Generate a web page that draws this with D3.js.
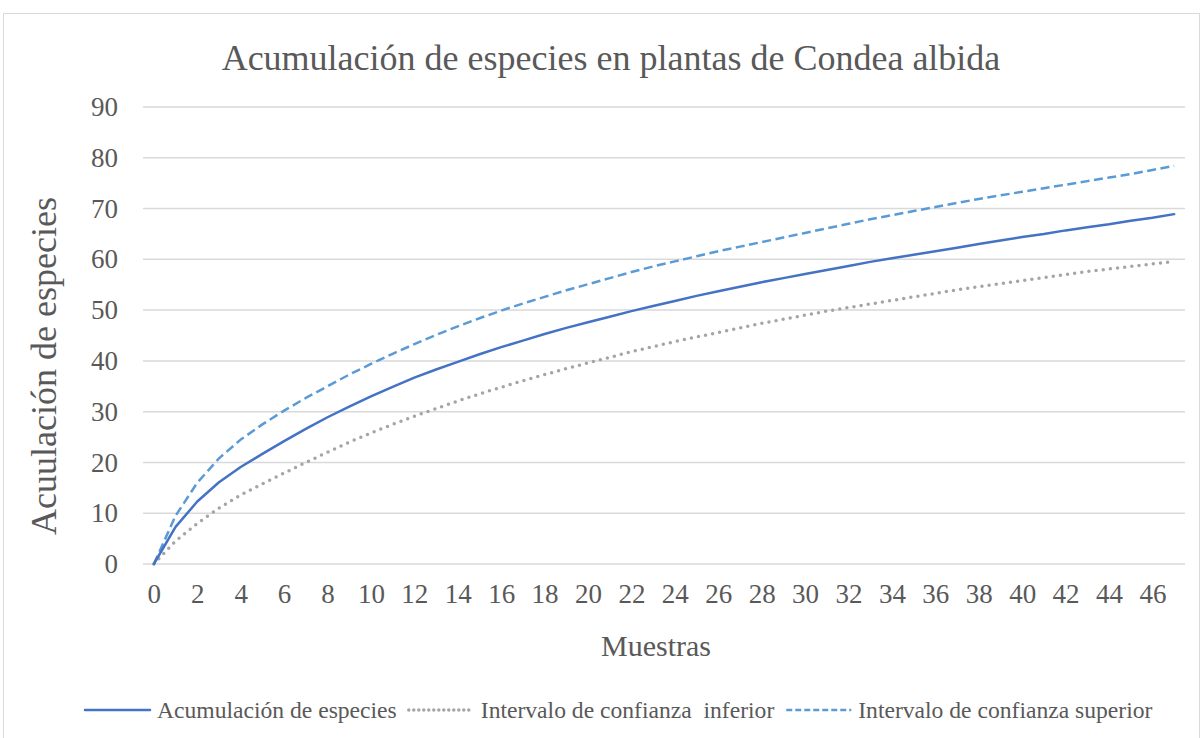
<!DOCTYPE html>
<html>
<head>
<meta charset="utf-8">
<script src="https://cdn.jsdelivr.net/npm/d3@7"></script>
<style>
  body { margin: 0; background: #fff; }
  text { font-family: "Liberation Serif", "Times New Roman", serif; fill: #595959; }
</style>
</head>
<body>
<svg id="chart" width="1203" height="738"></svg>
<script>
// muestras 0..47
var muestras = d3.range(0, 48);
var acumulacion = [0, 7.3, 12.3, 16.1, 19.1, 21.7, 24.2, 26.6, 28.9, 31.0, 33.0, 34.9, 36.7, 38.3, 39.8, 41.3,
  42.7, 44.0, 45.3, 46.5, 47.6, 48.7, 49.8, 50.8, 51.8, 52.8, 53.7, 54.6, 55.5, 56.3, 57.1, 57.9,
  58.7, 59.5, 60.2, 60.9, 61.6, 62.3, 63.0, 63.7, 64.4, 65.0, 65.7, 66.3, 66.9, 67.6, 68.2, 68.9];
var inferior = [0, 4.5, 8.0, 11.0, 13.6, 15.8, 17.9, 20.0, 22.0, 24.0, 25.8, 27.5, 29.1, 30.6, 32.1, 33.5,
  34.8, 36.1, 37.3, 38.5, 39.6, 40.7, 41.8, 42.8, 43.8, 44.7, 45.6, 46.5, 47.4, 48.2, 49.0, 49.8,
  50.5, 51.2, 51.9, 52.6, 53.3, 54.0, 54.6, 55.2, 55.8, 56.4, 57.0, 57.6, 58.1, 58.6, 59.1, 59.6];
var superior = [0, 9.5, 16.0, 20.8, 24.5, 27.5, 30.2, 32.7, 35.0, 37.3, 39.4, 41.4, 43.3, 45.1, 46.8, 48.4,
  49.9, 51.3, 52.6, 53.9, 55.1, 56.3, 57.5, 58.6, 59.6, 60.6, 61.6, 62.5, 63.4, 64.3, 65.2, 66.1,
  67.0, 67.9, 68.7, 69.5, 70.3, 71.1, 71.9, 72.6, 73.3, 74.0, 74.7, 75.4, 76.1, 76.8, 77.6, 78.4];
var yTicks = [0, 10, 20, 30, 40, 50, 60, 70, 80, 90];
var xTicks = d3.range(0, 48, 2);

var series = [
  {name: "Acumulación de especies", values: acumulacion, color: "#4472C4", dash: null, width: 2.5, cap: "round"},
  {name: "Intervalo de confianza  inferior", values: inferior, color: "#A5A5A5", dash: "0,7.2", width: 3.5, cap: "round"},
  {name: "Intervalo de confianza superior", values: superior, color: "#5B9BD5", dash: "9,4.5", width: 2.5, cap: "butt"}
];

var svg = d3.select("#chart");
var plotLeft = 143, plotRight = 1185, plotTop = 107, plotBottom = 564;

svg.append("rect")
  .attr("x", 3.5).attr("y", 13.5)
  .attr("width", 1196).attr("height", 740)
  .attr("fill", "#fff").attr("stroke", "#d9d9d9").attr("stroke-width", 1);

var x = d3.scalePoint().domain(muestras).range([plotLeft, plotRight]).padding(0.5);
var y = d3.scaleLinear().domain([0, 90]).range([plotBottom, plotTop]);

// gridlines
svg.append("g")
  .selectAll("line")
  .data(yTicks)
  .enter().append("line")
  .attr("x1", plotLeft).attr("x2", plotRight)
  .attr("y1", function(d) { return y(d); })
  .attr("y2", function(d) { return y(d); })
  .attr("stroke", "#d9d9d9").attr("stroke-width", 1.5);

// y axis labels
var yAxis = d3.axisLeft(y).tickValues(yTicks).tickSize(0).tickPadding(0);
var gy = svg.append("g").attr("transform", "translate(118,0)").call(yAxis);
gy.select(".domain").remove();
gy.selectAll("text").style("font-size", "27px").attr("fill", "#595959")
  .style("font-family", "Liberation Serif");

// x axis labels
var xAxis = d3.axisBottom(x).tickValues(xTicks).tickSize(0).tickPadding(0);
var gx = svg.append("g").attr("transform", "translate(0,584)").call(xAxis);
gx.select(".domain").remove();
gx.selectAll("text").style("font-size", "27px").attr("fill", "#595959")
  .style("font-family", "Liberation Serif");

// lines
var line = d3.line()
  .x(function(d, i) { return x(muestras[i]); })
  .y(function(d) { return y(d); });

series.slice().reverse().forEach(function(s) {
  svg.append("path")
    .datum(s.values)
    .attr("d", line)
    .attr("fill", "none")
    .attr("stroke", s.color)
    .attr("stroke-width", s.width)
    .attr("stroke-linecap", s.cap)
    .attr("stroke-linejoin", "round")
    .attr("stroke-dasharray", s.dash);
});

// titles
svg.append("text")
  .attr("x", 611).attr("y", 70)
  .attr("text-anchor", "middle")
  .style("font-size", "36px")
  .text("Acumulación de especies en plantas de Condea albida");

svg.append("text")
  .attr("x", 656).attr("y", 656)
  .attr("text-anchor", "middle")
  .style("font-size", "30px")
  .text("Muestras");

svg.append("text")
  .attr("transform", "translate(56,366) rotate(-90)")
  .attr("text-anchor", "middle")
  .style("font-size", "36px")
  .text("Acuulación de especies");

// legend
var lx = 85, ly = 710;
series.forEach(function(s) {
  svg.append("line")
    .attr("x1", lx).attr("x2", lx + 65)
    .attr("y1", ly).attr("y2", ly)
    .attr("stroke", s.color)
    .attr("stroke-width", s.width)
    .attr("stroke-linecap", s.cap)
    .attr("stroke-dasharray", s.dash ? (s.cap === "round" ? "0,5" : "6,3") : null);
  var t = svg.append("text")
    .attr("x", lx + 72).attr("y", ly + 8)
    .attr("xml:space", "preserve")
    .style("white-space", "pre")
    .style("font-size", "23.6px")
    .text(s.name);
  lx += 72 + t.node().getComputedTextLength() + 12;
});
</script>
</body>
</html>
